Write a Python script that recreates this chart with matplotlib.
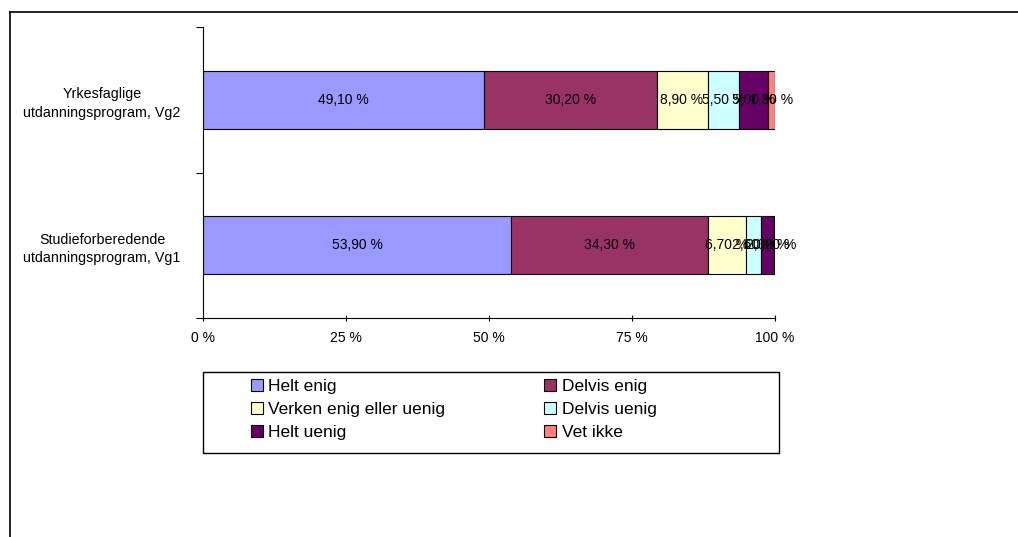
import numpy as np
import matplotlib.pyplot as plt
from matplotlib.lines import Line2D
from matplotlib.patches import Rectangle

plt.rcParams['font.family'] = ['Liberation Sans', 'DejaVu Sans']

categories = ['Studieforberedende\nutdanningsprogram, Vg1',
              'Yrkesfaglige\nutdanningsprogram, Vg2']
series = ['Helt enig', 'Delvis enig', 'Verken enig eller uenig',
          'Delvis uenig', 'Helt uenig', 'Vet ikke']
# values per series: [Vg1, Vg2]
helt_enig = [53.9, 49.1]
delvis_enig = [34.3, 30.2]
verken = [6.7, 8.9]
delvis_uenig = [2.6, 5.5]
helt_uenig = [2.3, 5.0]
vet_ikke = [0.2, 1.3]
values = [helt_enig, delvis_enig, verken, delvis_uenig, helt_uenig, vet_ikke]
colors = ['#9999FF', '#993366', '#FFFFCC', '#CCFFFF', '#660066', '#FF8080']
xticks = [0, 25, 50, 75, 100]

W, H = 1018, 537
fig = plt.figure(figsize=(W / 100, H / 100), dpi=100)
ax = fig.add_axes([203 / W, 1 - 318 / H, 572 / W, 291 / H])

y = np.arange(len(categories))
left = np.zeros(len(categories))
for name, vals, c in zip(series, values, colors):
    vals = np.array(vals)
    bars = ax.barh(y, vals, left=left, height=0.4, color=c,
                   edgecolor='black', linewidth=0.8, label=name)
    for b, v in zip(bars, vals):
        ax.text(b.get_x() + b.get_width() / 2, b.get_y() + b.get_height() / 2,
                f"{v:.2f} %".replace('.', ','), ha='center', va='center',
                fontsize=10, color='black')
    left += vals

ax.set_xlim(0, 100)
ax.set_ylim(-0.5, 1.5)
ax.set_xticks(xticks)
ax.set_xticklabels([f"{t} %" for t in xticks], fontsize=10)
ax.set_yticks([-0.5, 0.5, 1.5])
ax.set_yticklabels([])
ax.set_yticks(y, minor=True)
ax.set_yticklabels(categories, minor=True, fontsize=10.3, multialignment='center',
                   linespacing=1.4)
ax.tick_params(axis='y', which='minor', length=0, pad=16)
ax.tick_params(axis='y', which='major', length=5, width=0.8, direction='out')
ax.tick_params(axis='x', length=5, width=0.8, direction='inout', pad=7)
for s in ['top', 'right']:
    ax.spines[s].set_visible(False)
for s in ['left', 'bottom']:
    ax.spines[s].set_linewidth(0.8)

# legend laid out row by row like the original
handles, labels = ax.get_legend_handles_labels()
order = [0, 2, 4, 1, 3, 5]
leg = fig.legend([handles[i] for i in order], [labels[i] for i in order],
                 ncol=2, loc='upper left',
                 bbox_to_anchor=(251 / W, 1 - 379 / H),
                 frameon=False, borderaxespad=0, borderpad=0,
                 fontsize=12.5, handlelength=0.7, handleheight=0.7,
                 handletextpad=0.3, labelspacing=0.45, columnspacing=5.7)
fig.add_artist(Rectangle((203 / W, 1 - 453 / H), 576 / W, 81 / H,
                         transform=fig.transFigure, fill=False,
                         edgecolor='black', linewidth=1.0))

fig.add_artist(Line2D([10 / W, 1], [1 - 12 / H, 1 - 12 / H],
                      color='black', linewidth=1.2))
fig.add_artist(Line2D([10 / W, 10 / W], [0, 1 - 12 / H],
                      color='black', linewidth=1.2))

fig.savefig('out.png', dpi=100, facecolor='white')
